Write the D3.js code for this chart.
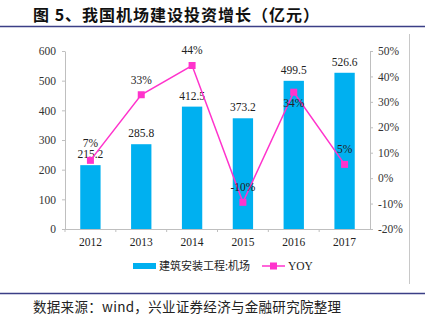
<!DOCTYPE html>
<html>
<head>
<meta charset="utf-8">
<script src="https://cdn.jsdelivr.net/npm/d3@7"></script>
<style>
  body { margin: 0; background: #fff; }
  text { font-family: "Liberation Serif", "Times New Roman", serif; }
  .cjk { font-family: "Noto Sans CJK SC", sans-serif; }
</style>
</head>
<body>
<div id="chart"></div>
<script>
// data
var years = ["2012", "2013", "2014", "2015", "2016", "2017"];
var invest = [215.2, 285.8, 412.5, 373.2, 499.5, 526.6];
var yoy = [7.0, 32.8, 44.3, -9.5, 33.8, 5.4];
var yoyLabels = ["7%", "33%", "44%", "-10%", "34%", "5%"];
var leftTicks = [0, 100, 200, 300, 400, 500, 600];
var rightTicks = [-20, -10, 0, 10, 20, 30, 40, 50];

var width = 426, height = 321;
var margin = {top: 51, right: 56, bottom: 92, left: 65};

var svg = d3.select("#chart").append("svg")
  .attr("width", width)
  .attr("height", height);

// title + rules
svg.append("text").attr("class", "cjk")
  .attr("x", 33).attr("y", 21)
  .style("font-size", "16px").style("font-weight", "bold").style("letter-spacing", "1px").attr("fill", "#111")
  .text("图 5、我国机场建设投资增长（亿元）");
svg.append("line").attr("x1", 0).attr("x2", 425).attr("y1", 26.5).attr("y2", 26.5)
  .attr("stroke", "#3b3f86").attr("stroke-width", 1.5);
svg.append("line").attr("x1", 409.5).attr("x2", 409.5).attr("y1", 34).attr("y2", 284)
  .attr("stroke", "#c8c8c8").attr("stroke-width", 1);
svg.append("line").attr("x1", 0).attr("x2", 425).attr("y1", 293.5).attr("y2", 293.5)
  .attr("stroke", "#3b3f86").attr("stroke-width", 1.5);
svg.append("text").attr("class", "cjk")
  .attr("x", 33).attr("y", 312)
  .style("font-size", "13.5px").style("letter-spacing", "0.3px").attr("fill", "#222")
  .text("数据来源：wind，兴业证券经济与金融研究院整理");

var x0 = margin.left, x1 = width - margin.right;
var yb = height - margin.bottom;

var xScale = d3.scaleBand().domain(years).range([x0, x1]).paddingInner(0.6).paddingOuter(0.3);
var xCat = d3.scaleBand().domain(years).range([x0, x1]);
var yLeft = d3.scaleLinear().domain([0, 600]).range([yb, margin.top]);
var yRight = d3.scaleLinear().domain([-20, 50]).range([yb, margin.top]);

// bars
svg.selectAll(".bar").data(invest).enter().append("rect")
  .attr("class", "bar")
  .attr("x", (d, i) => xScale(years[i]))
  .attr("y", d => yLeft(d))
  .attr("width", xScale.bandwidth())
  .attr("height", d => yb - yLeft(d))
  .attr("fill", "#00b0f0");

// left axis
var gl = svg.append("g").attr("transform", `translate(${x0},0)`)
  .call(d3.axisLeft(yLeft).tickValues(leftTicks).tickSize(3).tickSizeOuter(0));
// right axis
var gr = svg.append("g").attr("transform", `translate(${x1},0)`)
  .call(d3.axisRight(yRight).tickValues(rightTicks).tickSize(3).tickSizeOuter(0)
    .tickFormat(d => d + "%"));
[gl, gr].forEach(g => {
  g.select(".domain").attr("stroke", "#bfbfbf");
  g.selectAll(".tick line").attr("stroke", "#bfbfbf");
  g.selectAll(".tick text").attr("fill", "#333")
    .style("font-family", "Liberation Serif").style("font-size", "11.5px");
});
gl.selectAll(".tick text").attr("x", -9);
gr.selectAll(".tick text").attr("x", 8);

// x axis
var gx = svg.append("g").attr("transform", `translate(0,${yb})`)
  .call(d3.axisBottom(xCat).tickSize(0).tickSizeOuter(0));
gx.select(".domain").attr("stroke", "#bfbfbf").attr("d", `M${x0 - 3},0.5H${x1}`);
gx.selectAll(".tick text").attr("fill", "#222").attr("y", 9)
  .style("font-family", "Liberation Serif").style("font-size", "11.5px");
gx.selectAll(".sep").data(years).enter().append("line")
  .attr("class", "sep")
  .attr("x1", d => xCat(d)).attr("x2", d => xCat(d))
  .attr("y1", 0).attr("y2", 3)
  .attr("stroke", "#bfbfbf");

// bar labels
svg.selectAll(".blabel").data(invest).enter().append("text")
  .attr("x", (d, i) => xCat(years[i]) + xCat.bandwidth() / 2)
  .attr("y", d => yLeft(d) - 7)
  .attr("text-anchor", "middle")
  .style("font-size", "11.5px").attr("fill", "#222")
  .text(d => d.toFixed(1));

// yoy line
var cx = (d, i) => xCat(years[i]) + xCat.bandwidth() / 2;
var line = d3.line().x(cx).y(d => yRight(d));
svg.append("path").datum(yoy)
  .attr("d", line).attr("fill", "none")
  .attr("stroke", "#ff33cc").attr("stroke-width", 1.5);
svg.selectAll(".mk").data(yoy).enter().append("rect")
  .attr("x", (d, i) => cx(d, i) - 3.5)
  .attr("y", d => yRight(d) - 3.5)
  .attr("width", 7).attr("height", 7)
  .attr("fill", "#ff33cc");
svg.selectAll(".ylabel").data(yoy).enter().append("text")
  .attr("x", cx)
  .attr("y", (d, i) => i === 4 ? yRight(d) + 15 : yRight(d) - (i === 0 ? 13 : 11))
  .attr("text-anchor", "middle")
  .style("font-size", "11.5px").attr("fill", "#222")
  .text((d, i) => yoyLabels[i]);

// legend
var lg = svg.append("g").attr("transform", "translate(0,266)");
lg.append("rect").attr("x", 133).attr("y", -3).attr("width", 23).attr("height", 6).attr("fill", "#00b0f0");
lg.append("text").attr("class", "cjk").attr("x", 159).attr("y", 4)
  .style("font-size", "11px").attr("fill", "#222").text("建筑安装工程:机场");
lg.append("line").attr("x1", 262).attr("x2", 285).attr("y1", 0).attr("y2", 0)
  .attr("stroke", "#ff33cc").attr("stroke-width", 1.5);
lg.append("rect").attr("x", 270).attr("y", -3.5).attr("width", 7).attr("height", 7).attr("fill", "#ff33cc");
lg.append("text").attr("x", 288).attr("y", 4)
  .style("font-size", "11.5px").attr("fill", "#222").text("YOY");
</script>
</body>
</html>
